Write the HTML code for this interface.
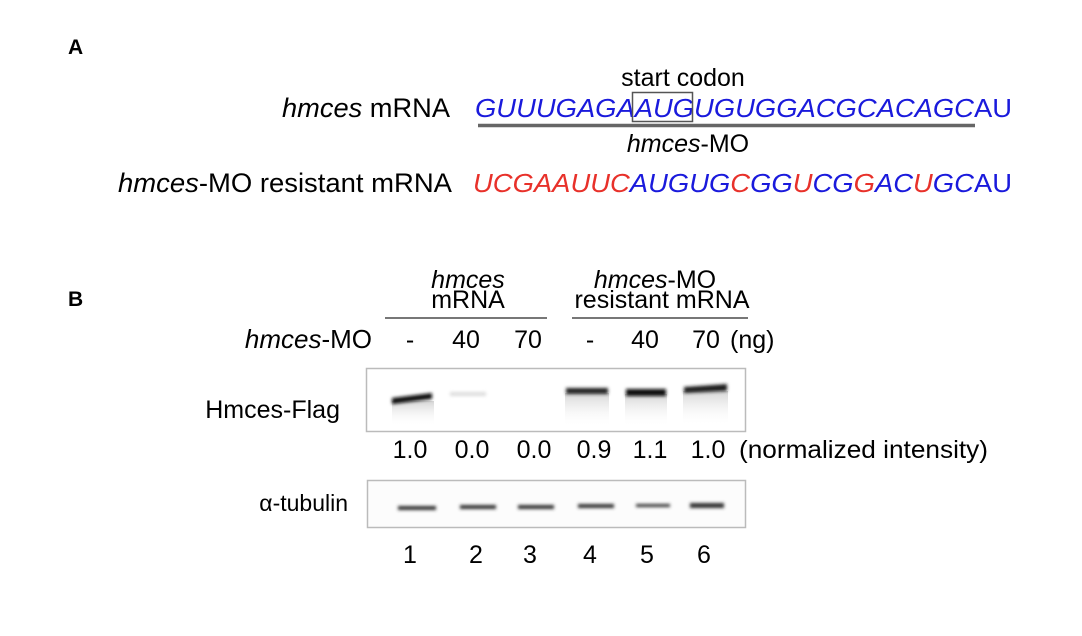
<!DOCTYPE html>
<html><head><meta charset="utf-8"><style>
html,body{margin:0;padding:0;background:#fff;}
svg{display:block;font-family:"Liberation Sans",Arial,sans-serif;}
</style></head><body>
<svg width="1082" height="636" viewBox="0 0 1082 636" xmlns="http://www.w3.org/2000/svg">
<defs>
<filter id="b1" x="-50%" y="-200%" width="200%" height="500%"><feGaussianBlur stdDeviation="1.6"/></filter>
<linearGradient id="sm" x1="0" y1="0" x2="0" y2="1"><stop offset="0" stop-color="#888" stop-opacity="0.35"/><stop offset="1" stop-color="#fff" stop-opacity="0"/></linearGradient>
</defs>
<text x="68" y="54" font-size="21" font-weight="bold">A</text>
<text x="68" y="306" font-size="21" font-weight="bold">B</text>

<text x="683" y="86" font-size="25" text-anchor="middle">start codon</text>
<text x="450" y="117" font-size="27" text-anchor="end" textLength="168" lengthAdjust="spacingAndGlyphs"><tspan font-style="italic">hmces</tspan> mRNA</text>
<text x="475" y="117" font-size="26" fill="#1a1adc" textLength="537" lengthAdjust="spacingAndGlyphs"><tspan font-style="italic">GUUUGAGAAUGUGUGGACGCACAGC</tspan>AU</text>
<rect x="632.5" y="92.5" width="60" height="29" fill="none" stroke="#555" stroke-width="1.5"/>
<line x1="478" y1="125.5" x2="975" y2="125.5" stroke="#666" stroke-width="3.5"/>
<text x="688" y="152" font-size="25" text-anchor="middle"><tspan font-style="italic">hmces</tspan>-MO</text>
<text x="452" y="192" font-size="27" text-anchor="end" textLength="334" lengthAdjust="spacingAndGlyphs"><tspan font-style="italic">hmces</tspan>-MO resistant mRNA</text>
<text x="473" y="192" font-size="26" textLength="539" lengthAdjust="spacingAndGlyphs" font-style="italic"><tspan fill="#e8312a">UCGAAUUC</tspan><tspan fill="#1a1adc">AUGUG</tspan><tspan fill="#e8312a">C</tspan><tspan fill="#1a1adc">GG</tspan><tspan fill="#e8312a">U</tspan><tspan fill="#1a1adc">CG</tspan><tspan fill="#e8312a">G</tspan><tspan fill="#1a1adc">AC</tspan><tspan fill="#e8312a">U</tspan><tspan fill="#1a1adc">GC</tspan><tspan fill="#1a1adc" font-style="normal">AU</tspan></text>

<text x="468" y="288" font-size="25" text-anchor="middle" font-style="italic">hmces</text>
<text x="468" y="308" font-size="25" text-anchor="middle">mRNA</text>
<line x1="385" y1="318" x2="547" y2="318" stroke="#777" stroke-width="2"/>
<text x="655" y="288" font-size="25" text-anchor="middle"><tspan font-style="italic">hmces</tspan>-MO</text>
<text x="662" y="308" font-size="25" text-anchor="middle">resistant mRNA</text>
<line x1="572" y1="318" x2="748" y2="318" stroke="#777" stroke-width="2"/>

<text x="372" y="348" font-size="26" text-anchor="end"><tspan font-style="italic">hmces</tspan>-MO</text>
<g font-size="25" text-anchor="middle">
<text x="410" y="348">-</text><text x="466" y="348">40</text><text x="528" y="348">70</text>
<text x="590" y="348">-</text><text x="645" y="348">40</text><text x="706" y="348">70</text>
</g>
<text x="730" y="348" font-size="25">(ng)</text>

<rect x="366.5" y="368.5" width="379" height="63" fill="#fff" stroke="#bbb" stroke-width="1.5"/>
<g>
<rect x="392" y="401" width="42" height="25" fill="url(#sm)"/>
<rect x="565" y="393" width="44" height="34" fill="url(#sm)"/>
<rect x="625" y="394" width="42" height="33" fill="url(#sm)"/>
<rect x="683" y="391" width="45" height="35" fill="url(#sm)"/>
<path d="M392 398 L432 393 L432 399 L392 404 Z" fill="#111" filter="url(#b1)"/>
<rect x="450" y="392" width="36" height="4" fill="#ddd" filter="url(#b1)"/>
<rect x="566" y="388" width="42" height="6" fill="#222" filter="url(#b1)"/>
<rect x="626" y="389" width="40" height="7" fill="#111" filter="url(#b1)"/>
<path d="M684 387 L727 384 L727 391 L684 393 Z" fill="#1a1a1a" filter="url(#b1)"/>
</g>
<text x="340" y="418" font-size="25" text-anchor="end">Hmces-Flag</text>

<g font-size="25" text-anchor="middle">
<text x="410" y="458">1.0</text><text x="472" y="458">0.0</text><text x="534" y="458">0.0</text>
<text x="594" y="458">0.9</text><text x="650" y="458">1.1</text><text x="708" y="458">1.0</text>
</g>
<text x="739" y="458" font-size="25" textLength="249" lengthAdjust="spacingAndGlyphs">(normalized intensity)</text>

<rect x="367.5" y="480.5" width="378" height="47" fill="#fcfcfc" stroke="#bbb" stroke-width="1.5"/>
<g fill="#333" filter="url(#b1)">
<rect x="398" y="506" width="38" height="4"/><rect x="460" y="505" width="36" height="4"/>
<rect x="518" y="505" width="36" height="4"/><rect x="578" y="504" width="36" height="4"/>
<rect x="636" y="504" width="34" height="3"/><rect x="690" y="503" width="34" height="5"/>
</g>
<text x="348" y="511" font-size="23" text-anchor="end">α-tubulin</text>

<g font-size="25" text-anchor="middle">
<text x="410" y="563">1</text><text x="476" y="563">2</text><text x="530" y="563">3</text>
<text x="590" y="563">4</text><text x="647" y="563">5</text><text x="704" y="563">6</text>
</g>
</svg>
</body></html>
